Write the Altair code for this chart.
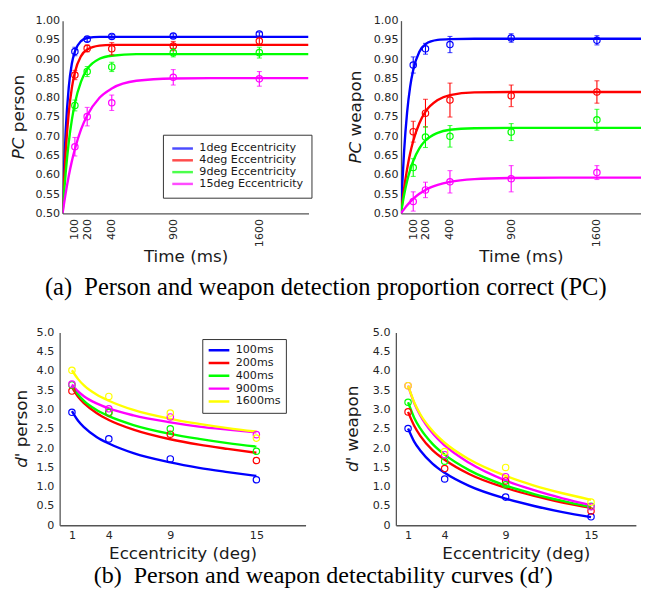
import altair as alt
import pandas as pd

# ---------------- data ----------------
pc_series = ["1deg Eccentricity", "4deg Eccentricity", "9deg Eccentricity", "15deg Eccentricity"]
pc_colors = ["#0000ff", "#ff0000", "#00ff00", "#ff00ff"]
pc_times = [100, 200, 400, 900, 1600]
pc_yticks = [0.50, 0.55, 0.60, 0.65, 0.70, 0.75, 0.80, 0.85, 0.90, 0.95, 1.00]

# proportion correct, person (rows follow pc_series)
person_pc = [
    [0.920, 0.952, 0.959, 0.960, 0.965],
    [0.859, 0.928, 0.927, 0.934, 0.947],
    [0.780, 0.868, 0.880, 0.917, 0.917],
    [0.673, 0.751, 0.787, 0.853, 0.849],
]
person_pc_err = [
    [0.011, 0.006, 0.005, 0.006, 0.005],
    [0.012, 0.009, 0.016, 0.012, 0.010],
    [0.014, 0.013, 0.012, 0.011, 0.014],
    [0.024, 0.024, 0.020, 0.020, 0.019],
]
# proportion correct, weapon
weapon_pc = [
    [0.885, 0.927, 0.938, 0.955, 0.949],
    [0.712, 0.760, 0.794, 0.805, 0.815],
    [0.619, 0.698, 0.700, 0.711, 0.743],
    [0.531, 0.561, 0.582, 0.590, 0.606],
]
weapon_pc_err = [
    [0.021, 0.014, 0.021, 0.011, 0.012],
    [0.027, 0.036, 0.044, 0.028, 0.029],
    [0.023, 0.027, 0.028, 0.022, 0.027],
    [0.025, 0.020, 0.029, 0.034, 0.018],
]
# fitted curves
fit_times = [0, 10, 25, 50, 75, 100, 150, 200, 300, 400, 600, 900, 1300, 2000]
person_pc_fit = [
    [0.5, 0.601, 0.713, 0.827, 0.888, 0.920, 0.947, 0.955, 0.958, 0.958, 0.958, 0.958, 0.958, 0.958],
    [0.5, 0.573, 0.660, 0.761, 0.825, 0.866, 0.908, 0.925, 0.935, 0.937, 0.937, 0.937, 0.937, 0.937],
    [0.5, 0.546, 0.605, 0.684, 0.742, 0.786, 0.842, 0.874, 0.901, 0.909, 0.913, 0.913, 0.913, 0.913],
    [0.5, 0.522, 0.552, 0.597, 0.635, 0.667, 0.718, 0.754, 0.800, 0.824, 0.844, 0.850, 0.851, 0.851],
]
weapon_pc_fit = [
    [0.5, 0.572, 0.659, 0.762, 0.829, 0.872, 0.919, 0.939, 0.950, 0.952, 0.953, 0.953, 0.953, 0.953],
    [0.5, 0.527, 0.564, 0.615, 0.656, 0.688, 0.734, 0.764, 0.794, 0.807, 0.814, 0.815, 0.815, 0.815],
    [0.5, 0.520, 0.547, 0.584, 0.613, 0.636, 0.669, 0.689, 0.709, 0.717, 0.721, 0.722, 0.722, 0.722],
    [0.5, 0.505, 0.511, 0.521, 0.530, 0.538, 0.551, 0.561, 0.574, 0.582, 0.589, 0.592, 0.593, 0.593],
]

d_series = ["100ms", "200ms", "400ms", "900ms", "1600ms"]
d_colors = ["#0000ff", "#ff0000", "#00ff00", "#ff00ff", "#ffff00"]
eccentricities = [1, 4, 9, 15]
d_yticks = [0, 0.5, 1.0, 1.5, 2.0, 2.5, 3.0, 3.5, 4.0, 4.5, 5.0]

person_d = [
    [2.93, 2.24, 1.72, 1.18],
    [3.48, 2.92, 2.36, 1.68],
    [3.64, 2.93, 2.50, 1.92],
    [3.66, 3.02, 2.81, 2.35],
    [4.02, 3.34, 2.91, 2.26],
]
weapon_d = [
    [2.51, 1.20, 0.73, 0.22],
    [2.94, 1.47, 1.15, 0.37],
    [3.19, 1.66, 1.05, 0.49],
    [3.62, 1.83, 1.26, 0.48],
    [3.62, 1.91, 1.50, 0.60],
]
fit_ecc = [1, 1.5, 2, 3, 4, 6, 9, 11, 13, 15]
person_d_fit = [
    [2.96, 2.71, 2.54, 2.29, 2.12, 1.87, 1.63, 1.49, 1.38, 1.28],
    [3.58, 3.33, 3.16, 2.91, 2.73, 2.48, 2.23, 2.09, 1.98, 1.88],
    [3.62, 3.39, 3.22, 2.99, 2.83, 2.60, 2.37, 2.24, 2.13, 2.04],
    [3.65, 3.47, 3.34, 3.16, 3.03, 2.85, 2.67, 2.56, 2.48, 2.41],
    [4.02, 3.79, 3.62, 3.39, 3.23, 2.99, 2.76, 2.63, 2.52, 2.43],
]
weapon_d_fit = [
    [2.51, 2.17, 1.94, 1.60, 1.36, 1.02, 0.69, 0.50, 0.34, 0.21],
    [2.94, 2.58, 2.32, 1.95, 1.70, 1.33, 0.97, 0.76, 0.59, 0.45],
    [3.19, 2.79, 2.51, 2.11, 1.83, 1.43, 1.03, 0.81, 0.63, 0.47],
    [3.62, 3.17, 2.85, 2.39, 2.07, 1.62, 1.16, 0.91, 0.70, 0.52],
    [3.62, 3.19, 2.88, 2.45, 2.14, 1.71, 1.28, 1.03, 0.83, 0.66],
]

caption_a = "(a)\u2002Person and weapon detection proportion correct (PC)"
caption_b = "(b)\u2002Person and weapon detectability curves (d\u2032)"

FONT = "DejaVu Sans"


# ---------------- helpers ----------------
def points_frame(series, xs, values, errors=None):
    rows = []
    for i, s in enumerate(series):
        for j, x in enumerate(xs):
            v = values[i][j]
            e = errors[i][j] if errors else 0.0
            rows.append({"series": s, "x": x, "y": v, "lo": v - e, "hi": v + e})
    return pd.DataFrame(rows)


def curve_frame(series, xs, values):
    rows = []
    for i, s in enumerate(series):
        for j, x in enumerate(xs):
            rows.append({"series": s, "x": x, "y": values[i][j]})
    return pd.DataFrame(rows)


def title_layers(parts, x_px):
    out = []
    for text, style, y_px in parts:
        out.append(
            alt.Chart(pd.DataFrame({"label": [text]}))
            .mark_text(angle=270, align="left", baseline="middle", font=FONT,
                       fontSize=17, fontStyle=style, color="#1a1a1a")
            .encode(text="label:N", x=alt.value(x_px), y=alt.value(y_px))
        )
    return out


def panel(pts, fit, series, colors, xscale, xaxis, yscale, yaxis, legend,
          width, parts, title_x, errorbars):
    color = alt.Color("series:N", scale=alt.Scale(domain=series, range=colors),
                      sort=series, legend=legend)
    X = alt.X("x:Q", scale=xscale, axis=xaxis)
    layers = [
        alt.Chart(fit).mark_line(strokeWidth=2.4, interpolate="monotone", clip=True)
        .encode(x=X, y=alt.Y("y:Q", scale=yscale, axis=yaxis), color=color)
    ]
    if errorbars:
        layers.append(
            alt.Chart(pts).mark_rule(strokeWidth=1.1)
            .encode(x=X, y=alt.Y("lo:Q", scale=yscale, axis=yaxis), y2="hi:Q", color=color)
        )
        for f in ["lo", "hi"]:
            layers.append(
                alt.Chart(pts).mark_tick(orient="horizontal", size=5, thickness=1.1)
                .encode(x=X, y=alt.Y(f + ":Q", scale=yscale, axis=yaxis), color=color)
            )
    layers.append(
        alt.Chart(pts).mark_point(shape="circle", filled=False, size=42, strokeWidth=1.2, opacity=1)
        .encode(x=X, y=alt.Y("y:Q", scale=yscale, axis=yaxis), color=color)
    )
    layers += title_layers(parts, title_x)
    return alt.layer(*layers).properties(width=width, height=196)


def make_legend(lx, ly, pad, row_h):
    return alt.Legend(title=None, orient="none", legendX=lx, legendY=ly,
                      symbolType="stroke", symbolSize=441, symbolStrokeWidth=2.5,
                      labelFontSize=11.3, labelFont=FONT, labelColor="#1a1a1a",
                      labelOffset=5, padding=pad, rowPadding=0, clipHeight=row_h,
                      strokeColor="#333333", fillColor="white", cornerRadius=0)


pc_yaxis = alt.Axis(values=pc_yticks, format=".2f", title=None, labelPadding=3)
pc_xaxis = alt.Axis(values=pc_times, format="d", labelAngle=270, title="Time (ms)",
                    labelPadding=5, titlePadding=2)
pc_yscale = alt.Scale(domain=[0.5, 1.0], nice=False, zero=False)

d_label_expr = "datum.value == 0 ? '0' : format(datum.value, '.1f')"
d_yaxis_left = alt.Axis(values=d_yticks, title=None, labelPadding=6, offset=3,
                        labelExpr=d_label_expr)
d_yaxis = alt.Axis(values=d_yticks, title=None, labelPadding=6, labelExpr=d_label_expr)
d_xaxis = alt.Axis(values=eccentricities, format="d", title="Eccentricity (deg)",
                   labelPadding=4, titlePadding=6)
d_yscale = alt.Scale(domain=[0, 5], nice=False, zero=False)

p1 = panel(points_frame(pc_series, pc_times, person_pc, person_pc_err),
           curve_frame(pc_series, fit_times, person_pc_fit),
           pc_series, pc_colors,
           alt.Scale(domain=[0, 2000], nice=False, zero=False), pc_xaxis,
           pc_yscale, pc_yaxis, make_legend(102, 116, 8, 12.0), 250,
           [("PC", "italic", 140.9), ("person", "normal", 113.4)], -44, True)

p2 = panel(points_frame(pc_series, pc_times, weapon_pc, weapon_pc_err),
           curve_frame(pc_series, fit_times, weapon_pc_fit),
           pc_series, pc_colors,
           alt.Scale(domain=[0, 1960], nice=False, zero=False), pc_xaxis,
           pc_yscale, pc_yaxis, None, 244,
           [("PC", "italic", 145.2), ("weapon", "normal", 117.7)], -46, True)

p3 = panel(points_frame(d_series, eccentricities, person_d),
           curve_frame(d_series, fit_ecc, person_d_fit),
           d_series, d_colors,
           alt.Scale(domain=[0, 9, 15, 20], range=[-3, 109.5, 197, 247], nice=False, zero=False),
           d_xaxis, d_yscale, d_yaxis_left, make_legend(142, 6.7, 5, 12.8), 247,
           [("d", "italic", 137.6), ("' person", "normal", 126.8)], -41, False)

p4 = panel(points_frame(d_series, eccentricities, weapon_d),
           curve_frame(d_series, fit_ecc, weapon_d_fit),
           d_series, d_colors,
           alt.Scale(domain=[0, 9, 15, 20], range=[0, 111.6, 198.4, 244], nice=False, zero=False),
           d_xaxis, d_yscale, d_yaxis, None, 244,
           [("d", "italic", 141.8), ("' weapon", "normal", 131.0)], -43, False)


def caption(text, size, x_px, y_px, h):
    return (
        alt.Chart(pd.DataFrame({"label": [text]}))
        .mark_text(font="Liberation Serif", fontSize=size, align="center",
                   baseline="middle", color="black")
        .encode(text="label:N", x=alt.value(x_px), y=alt.value(y_px))
        .properties(width=10, height=h)
    )


row1 = alt.hconcat(p1, p2, spacing=34).resolve_scale(color="independent")
row2 = alt.hconcat(p3, p4, spacing=36.8).resolve_scale(color="independent")

chart = (
    alt.vconcat(row1, caption(caption_a, 24.9, 267.5, 24.3, 63), row2,
                caption(caption_b, 24.4, 265, 12.4, 22), spacing=0)
    .resolve_scale(color="independent")
    .properties(padding={"left": 2.5, "top": 2, "right": 0, "bottom": 0})
    .configure_view(stroke=None)
    .configure_axis(labelFont=FONT, labelFontSize=11.3, labelColor="#262626",
                    titleFont=FONT, titleFontSize=17, titleFontWeight="normal",
                    titleColor="#1a1a1a", domainColor="#555555", domainWidth=1.3,
                    ticks=False, grid=False)
)

chart.save("out.html", embed_options={"renderer": "svg", "actions": False})
